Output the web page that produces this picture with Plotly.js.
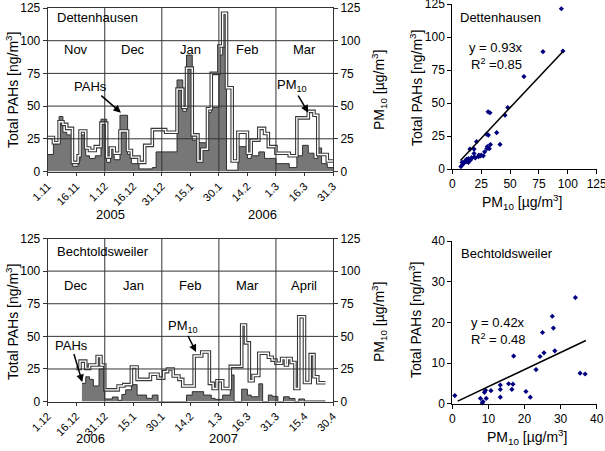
<!DOCTYPE html>
<html><head><meta charset="utf-8">
<script src="https://cdn.plot.ly/plotly-3.0.1.min.js"></script>
<style>html,body{margin:0;padding:0;background:#fff}#chart{width:605px;height:451px}</style>
</head><body><div id="chart"></div>
<script>
// ---------- Dettenhausen time series (Nov 2005 - Mar 2006) ----------
const detStart = '2005-11-01', detEnd = '2006-03-31';
const detDates = ['2005-11-01','2005-11-04','2005-11-07','2005-11-09','2005-11-11','2005-11-14','2005-11-17','2005-11-18','2005-11-21','2005-11-23','2005-11-26','2005-11-29','2005-12-02','2005-12-04','2005-12-06','2005-12-09','2005-12-13','2005-12-15','2005-12-19','2005-12-22','2005-12-26','2005-12-28','2006-01-02','2006-01-08','2006-01-11','2006-01-13','2006-01-16','2006-01-19','2006-01-21','2006-01-24','2006-01-26','2006-01-30','2006-02-01','2006-02-03','2006-02-06','2006-02-09','2006-02-14','2006-02-16','2006-02-20','2006-02-23','2006-02-25','2006-03-01','2006-03-08','2006-03-12','2006-03-15','2006-03-18','2006-03-21','2006-03-23','2006-03-25','2006-03-28'];
const detPAH  = [13,21,42,30,28,4,8,28,12,10,12,40,7,12,9,43,13,6,2,2,3,15,15,70,46,89,24,22,22,45,49,89,95,1,1,19,10,12,15,10,10,6,3,12,20,14,10,18,6,3];
const detPM10 = [26,22,38,36,33,7,12,31,18,16,19,37,11,18,14,31,16,11,7,20,32,32,30,63,49,79,28,8,17,48,75,96,121,64,8,30,14,24,33,29,19,14,12,41,41,46,43,13,13,8];
const detMonths = ['Nov','Dec','Jan','Feb','Mar'];

// ---------- Bechtoldsweiler time series (Dec 2006 - Apr 2007) ----------
const bechStart = '2006-12-01', bechEnd = '2007-04-30', bechDataEnd = '2007-04-26';
const bechPMDates = ['2006-12-16','2006-12-18','2006-12-21','2006-12-23','2006-12-27','2006-12-29','2006-12-31','2007-01-07','2007-01-10','2007-01-14','2007-01-17','2007-01-24','2007-01-28','2007-01-31','2007-02-02','2007-02-05','2007-02-08','2007-02-10','2007-02-16','2007-02-20','2007-02-24','2007-02-26','2007-02-28','2007-03-03','2007-03-07','2007-03-13','2007-03-15','2007-03-17','2007-03-19','2007-03-22','2007-03-27','2007-03-29','2007-03-31','2007-04-03','2007-04-05','2007-04-06','2007-04-08','2007-04-10','2007-04-12','2007-04-15','2007-04-18','2007-04-20','2007-04-22'];
const bechPM10 = [25.5,31,25.5,28,34.6,28,9,12,13,26.5,17,21,18,23,25,19.6,17,12,35,38,14,10,16,10,27,58.7,45,16,20,37,34,31.8,29.4,33,28,33,30,10,65,14.6,36,19,14.5];
const bechPAHDates = ['2006-12-19','2006-12-21','2006-12-23','2006-12-25','2006-12-28','2006-12-31','2007-01-04','2007-01-07','2007-01-09','2007-01-11','2007-01-14','2007-01-17','2007-01-22','2007-01-25','2007-01-28','2007-02-12','2007-02-15','2007-02-21','2007-02-25','2007-02-27','2007-03-03','2007-03-07','2007-03-09','2007-03-13','2007-03-16','2007-03-18','2007-03-22','2007-03-24','2007-03-27','2007-03-29','2007-04-01','2007-04-04','2007-04-07','2007-04-10','2007-04-12','2007-04-15'];
const bechPAH = [14,19,17,12,25,2,3.5,1,5.5,9,13,5,2.5,5,0,5,7.6,5,2.5,1.7,5,20.4,0,9.5,5,3.7,13.6,0,5,4,0,3.7,2.4,0,2,0.5];
const bechMonths = ['Dec','Jan','Feb','Mar','April'];

// ---------- Scatter: PM10 (x) vs total PAHs (y) ----------
const detScPM10 = [94.4,78.5,95.8,62,48,45.6,31,32.6,38.4,29.7,31.2,41.3,30.3,32,21,15.3,18.8,18.8,26.8,24,22.5,16.7,13.9,12.4,11,13.9,8.5,9,7.5,14.5,16,19,20,23,28,25,10,12,33,30];
const detScPAH  = [121.4,88.9,89.4,70,46.6,40.8,43.3,42.6,27.5,26.4,25.7,18.6,16.9,15.4,20.7,15.1,15.1,11.8,10,9.8,9.3,8.6,7.8,7.3,6,5,5,3.5,1.8,6.2,7,9,8.5,10.5,13,10.5,4.5,5.5,18.5,15.5];
const detSlope = 0.93, detFitRange = [7, 96];
const bechScPM10 = [0.7,7.8,8.5,8.3,8.9,9.2,9.4,10.7,13.3,13.3,13.3,15.6,16.5,16.8,17,20.4,21.6,23.2,24.3,25,25.4,27.7,28,28.4,34.1,35.4,36.8];
const bechScPAH  = [2.0,1.3,0.5,0.2,2.8,3.3,1.3,3.2,4.6,3.5,1.6,4.9,3.5,4.8,11.7,3.0,1.6,8.4,11.6,17.5,12.5,21.5,18.6,13,26.1,7.5,7.3];
const bechSlope = 0.42, bechFitRange = [1.5, 37];

// ---------- helpers ----------
function addDays(s, n){ const d = new Date(s + 'T00:00:00Z'); d.setUTCDate(d.getUTCDate()+n); return d.toISOString().slice(0,10); }
function step(dates, vals, end){ return {x: dates.concat([end]), y: vals.concat([vals[vals.length-1]])}; }
const FONT = 'Liberation Sans, Arial, sans-serif';
const GRID = '#333';
const DAY = 86400000;

const traces = [];
function tsTraces(xa, yaL, yaR, pahD, pahV, pmD, pmV, end, pmEnd){
  const p = step(pahD, pahV, end), m = step(pmD, pmV, pmEnd);
  traces.push({x:p.x, y:p.y, xaxis:xa, yaxis:yaL, type:'scatter', mode:'lines', line:{shape:'hv', color:'#303030', width:1}, fill:'tozeroy', fillcolor:'#777777', hoverinfo:'skip', showlegend:false});
  traces.push({x:m.x, y:m.y, xaxis:xa, yaxis:yaR, type:'scatter', mode:'lines', line:{shape:'hv', color:'#3a3a3a', width:3.6}, hoverinfo:'skip', showlegend:false});
  traces.push({x:m.x, y:m.y, xaxis:xa, yaxis:yaR, type:'scatter', mode:'lines', line:{shape:'hv', color:'#ffffff', width:1.4}, hoverinfo:'skip', showlegend:false});
}
tsTraces('x','y','y2', detDates, detPAH, detDates, detPM10, detEnd, detEnd);
tsTraces('x2','y3','y4', bechPAHDates, bechPAH, bechPMDates, bechPM10, bechDataEnd, bechDataEnd);

function scatterTraces(xa, ya, xs, ys, slope, rng){
  traces.push({x:xs, y:ys, xaxis:xa, yaxis:ya, type:'scatter', mode:'markers', marker:{symbol:'diamond', size:4, color:'#000080'}, showlegend:false, hoverinfo:'skip', cliponaxis:false});
  traces.push({x:rng, y:rng.map(v=>v*slope), xaxis:xa, yaxis:ya, type:'scatter', mode:'lines', line:{color:'#000', width:1.5}, showlegend:false, hoverinfo:'skip'});
}
scatterTraces('x3','y5', detScPM10, detScPAH, detSlope, detFitRange);
scatterTraces('x4','y6', bechScPM10, bechScPAH, bechSlope, bechFitRange);

// ---------- axes ----------
const tickFont = {family:FONT, size:12, color:'#000'};
function tsX(domain, anchor, start, end){
  return {type:'date', domain:domain, anchor:anchor, range:[start,end], tick0:start, dtick:15*DAY, tickformat:'%-d.%-m', tickangle:-45,
    ticks:'outside', ticklen:3, tickcolor:GRID, showgrid:false, zeroline:false, showline:true, mirror:true, linecolor:GRID, linewidth:1,
    tickfont:{family:FONT, size:11, color:'#000'}, ticklabeloverflow:'allow'};
}
function tsY(domain, anchor, side, overlaying){
  const a = {domain:domain, anchor:anchor, side:side, range:[0,125], dtick:25, ticks:'outside', ticklen:4, tickcolor:GRID,
    showgrid:false, zeroline:false, showline:true, linecolor:GRID, linewidth:1, tickfont:tickFont, ticklabeloverflow:'allow'};
  if (overlaying) a.overlaying = overlaying;
  return a;
}
function scX(domain, anchor, max, dt){
  return {domain:domain, anchor:anchor, range:[0,max], dtick:dt, ticks:'outside', ticklen:4, tickcolor:'#000', showgrid:false, zeroline:false, showline:true, linecolor:'#000', linewidth:1, tickfont:tickFont, ticklabeloverflow:'allow'};
}
const xTS = [47.7/605, 333/605];
const yTop = [1-171.5/451, 1-8/451];
const yBot = [1-401.6/451, 1-238.5/451];
const xSc = [452.3/605, 596.7/605];
const ySc1 = [1-169/451, 1-4/451];
const ySc2 = [1-403.7/451, 1-241/451];

const layout = {
  width:605, height:451, margin:{l:0,r:0,t:0,b:0}, paper_bgcolor:'#fff', plot_bgcolor:'rgba(0,0,0,0)',
  showlegend:false, font:{family:FONT, size:12, color:'#000'},
  xaxis: tsX(xTS,'y',detStart,detEnd),
  yaxis: tsY(yTop,'x','left'),
  yaxis2: tsY(yTop,'x','right','y'),
  xaxis2: tsX(xTS,'y3',bechStart,bechEnd),
  yaxis3: tsY(yBot,'x2','left'),
  yaxis4: tsY(yBot,'x2','right','y3'),
  xaxis3: scX(xSc,'y5',125,25),
  yaxis5: scX(ySc1,'x3',125,25),
  xaxis4: scX(xSc,'y6',40,10),
  yaxis6: scX(ySc2,'x4',40,10),
  shapes: [], annotations: []
};

// gridlines on top of the series
function grids(xa, ya, start){
  [25,50,75,100].forEach(v => layout.shapes.push({type:'line', layer:'above', xref:xa+' domain', yref:ya, x0:0, x1:1, y0:v, y1:v, line:{color:GRID, width:1}}));
  for (let k=1;k<=4;k++){ const d = addDays(start, 30*k);
    layout.shapes.push({type:'line', layer:'above', xref:xa, yref:ya+' domain', x0:d, x1:d, y0:0, y1:1, line:{color:GRID, width:1}}); }
}
grids('x','y',detStart);
grids('x2','y3',bechStart);

const A = layout.annotations;
function txt(t, px, py, o){ A.push(Object.assign({text:t, xref:'paper', yref:'paper', x:px/605, y:1-py/451, xanchor:'center', yanchor:'middle', showarrow:false, font:{family:FONT, size:13, color:'#000'}}, o||{})); }
function monthLabels(xa, ya, start, names, yv){
  names.forEach((n,i)=> A.push({text:n, xref:xa, yref:ya, x:addDays(start, 15+30*i), y:yv, xanchor:'center', yanchor:'middle', showarrow:false, font:{family:FONT, size:13, color:'#000'}}));
}
const titleFont = {family:FONT, size:14, color:'#000'};
const PAHTITLE = 'Total PAHs [ng/m<sup>3</sup>]';
const PMTITLE = 'PM<sub>10</sub> [µg/m<sup>3</sup>]';
const arrowOpts = {showarrow:true, arrowhead:2, arrowsize:1, arrowwidth:1.5, arrowcolor:'#000', font:{family:FONT,size:13,color:'#000'}};

// top time series
txt('Dettenhausen', 55, 17, {xanchor:'left'});
monthLabels('x','y',detStart,detMonths,93);
A.push(Object.assign({text:'PAHs', xref:'x', yref:'y', x:'2005-12-09 12:00', y:45, ax:-30, ay:-26}, arrowOpts));
A.push(Object.assign({text:'PM<sub>10</sub>', xref:'x', yref:'y', x:'2006-03-18', y:45, ax:-16, ay:-27}, arrowOpts));
txt('2005', 110, 214);
txt('2006', 262, 214);
txt(PAHTITLE, 12, 90, {textangle:-90, font:titleFont});
txt(PMTITLE, 379, 90, {textangle:-90, font:titleFont});

// bottom time series
txt('Bechtoldsweiler', 55, 252, {xanchor:'left'});
monthLabels('x2','y3',bechStart,bechMonths,89);
A.push(Object.assign({text:'PAHs', xref:'x2', yref:'y3', x:'2006-12-19 04:00', y:15, ax:-11, ay:-37}, arrowOpts));
A.push(Object.assign({text:'PM<sub>10</sub>', xref:'x2', yref:'y3', x:'2007-02-17', y:38, ax:-13, ay:-26}, arrowOpts));
txt('2006', 90, 438);
txt('2007', 223, 438);
txt(PAHTITLE, 12, 322, {textangle:-90, font:titleFont});
txt(PMTITLE, 379, 322, {textangle:-90, font:titleFont});

// scatter labels
txt('Dettenhausen', 458, 17, {xanchor:'left'});
txt('y = 0.93x', 496, 47);
txt('R<sup>2</sup> =0.85', 497, 64);
txt(PAHTITLE, 416, 88, {textangle:-90, font:titleFont});
txt(PMTITLE, 522, 202, {font:titleFont});
txt('Bechtoldsweiler', 459, 253, {xanchor:'left'});
txt('y = 0.42x', 498, 322);
txt('R<sup>2</sup> = 0.48', 498, 339);
txt(PAHTITLE, 415, 320, {textangle:-90, font:titleFont});
txt(PMTITLE, 527, 437, {font:titleFont});

Plotly.newPlot('chart', traces, layout, {staticPlot:true, displayModeBar:false});
</script>
</body></html>
